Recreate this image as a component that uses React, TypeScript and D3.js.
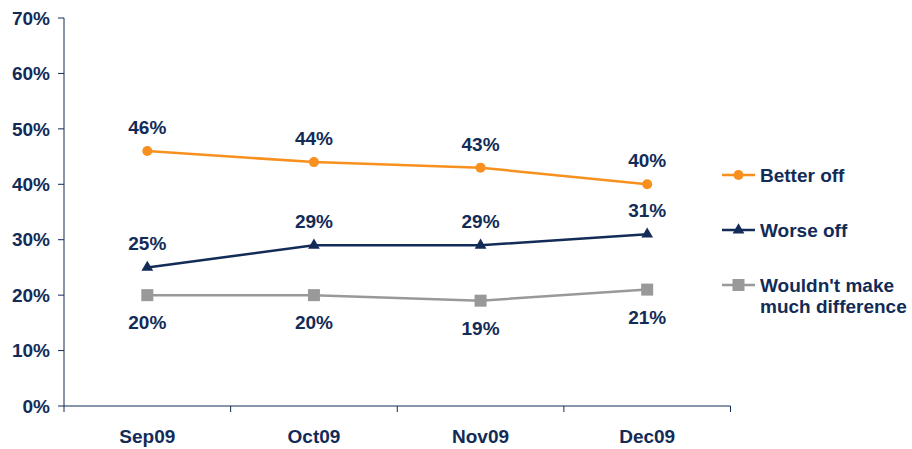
import React from "react";
import * as d3 from "d3";

const categories = ["Sep09", "Oct09", "Nov09", "Dec09"];
const betterOff = [46, 44, 43, 40];
const worseOff = [25, 29, 29, 31];
const noDifference = [20, 20, 19, 21];
const yTicks = [0, 10, 20, 30, 40, 50, 60, 70];
const seriesNames = ["Better off", "Worse off", "Wouldn't make much difference"];

const NAVY = "#122B57";
const ORANGE = "#F7901E";
const GRAY = "#999999";
const FONT = "Liberation Sans, Arial, sans-serif";
const FS = 19;

export default function App() {
  const left = 64, right = 730.5, top = 18, bottom = 406;
  const x = d3.scaleBand<string>().domain(categories).range([left, right]);
  const y = d3.scaleLinear().domain([0, 70]).range([bottom, top]);
  const cx = (c: string) => (x(c) as number) + x.bandwidth() / 2;
  const line = d3.line<number>().x((_, i) => cx(categories[i])).y((v) => y(v));

  const series = [
    { name: seriesNames[0], data: betterOff, color: ORANGE, marker: "circle", labelDy: -17, legendY: 175 },
    { name: seriesNames[1], data: worseOff, color: NAVY, marker: "triangle", labelDy: -17, legendY: 230 },
    { name: seriesNames[2], data: noDifference, color: GRAY, marker: "square", labelDy: 34, legendY: 285 },
  ];

  const marker = (type: string, px: number, py: number, color: string, key: string) => {
    if (type === "circle") return <circle key={key} cx={px} cy={py} r={5} fill={color} />;
    if (type === "triangle") {
      const p = d3.symbol(d3.symbolTriangle, 60)();
      return <path key={key} d={p as string} transform={`translate(${px},${py})`} fill={color} />;
    }
    return <rect key={key} x={px - 6} y={py - 6} width={12} height={12} fill={color} />;
  };

  return (
    <svg width={912} height={449} style={{ position: "absolute", left: 0, top: 0 }} fontFamily={FONT}>
      <rect width={912} height={449} fill="#fff" />
      {/* y axis */}
      <line x1={left} x2={left} y1={top} y2={bottom} stroke={NAVY} strokeWidth={1} />
      {yTicks.map((t) => (
        <g key={t}>
          <line x1={left - 6} x2={left} y1={y(t)} y2={y(t)} stroke={NAVY} />
          <text x={50} y={y(t)} dy="0.35em" textAnchor="end" fontSize={FS} fontWeight="bold" fill={NAVY}>
            {t}%
          </text>
        </g>
      ))}
      {/* x axis */}
      <line x1={left} x2={right} y1={bottom} y2={bottom} stroke={NAVY} strokeWidth={1} />
      {categories.map((c, i) => (
        <line key={"xt" + i} x1={x(c) as number} x2={x(c) as number} y1={bottom} y2={bottom + 6} stroke={NAVY} />
      ))}
      <line x1={right} x2={right} y1={bottom} y2={bottom + 6} stroke={NAVY} />
      {categories.map((c) => (
        <text key={c} x={cx(c)} y={443} textAnchor="middle" fontSize={FS} fontWeight="bold" fill={NAVY}>
          {c}
        </text>
      ))}
      {/* series */}
      {series.map((s) => (
        <g key={s.name}>
          <path d={line(s.data) as string} fill="none" stroke={s.color} strokeWidth={2.5} />
          {s.data.map((v, i) => marker(s.marker, cx(categories[i]), y(v), s.color, s.name + i))}
          {s.data.map((v, i) => (
            <text key={"l" + i} x={cx(categories[i])} y={y(v) + s.labelDy} textAnchor="middle" fontSize={FS} fontWeight="bold" fill={NAVY}>
              {v}%
            </text>
          ))}
        </g>
      ))}
      {/* legend */}
      {series.map((s) => (
        <g key={"lg" + s.name}>
          <line x1={722} x2={755} y1={s.legendY} y2={s.legendY} stroke={s.color} strokeWidth={2.5} />
          {marker(s.marker, 738.5, s.legendY, s.color, "lm" + s.name)}
          {s.name === seriesNames[2] ? (
            <text x={760} y={s.legendY} dy="0.35em" fontSize={FS} fontWeight="bold" fill={NAVY}>
              <tspan x={760}>Wouldn't make</tspan>
              <tspan x={760} dy={21}>much difference</tspan>
            </text>
          ) : (
            <text x={760} y={s.legendY} dy="0.35em" fontSize={FS} fontWeight="bold" fill={NAVY}>
              {s.name}
            </text>
          )}
        </g>
      ))}
    </svg>
  );
}
